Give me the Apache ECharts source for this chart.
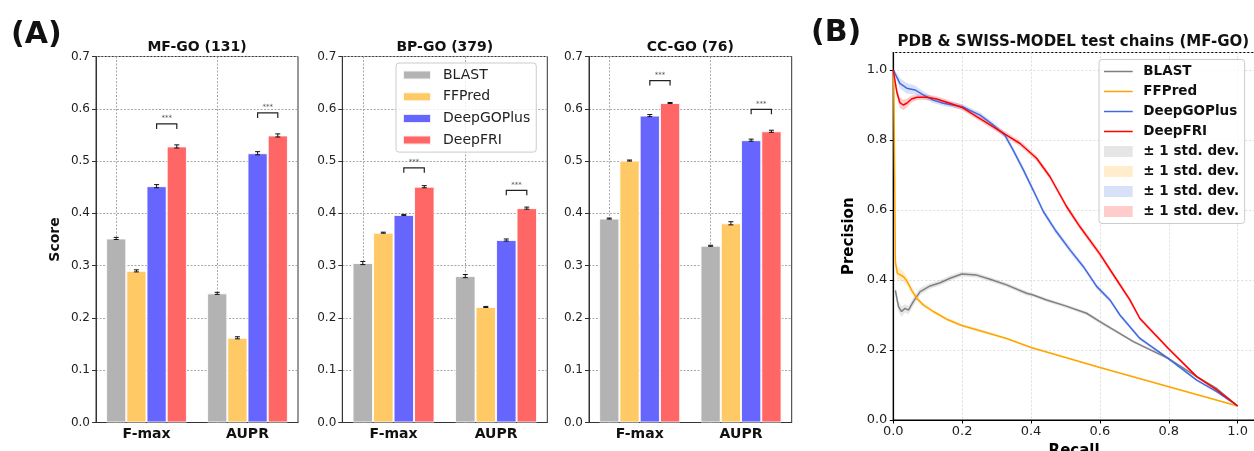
<!DOCTYPE html>
<html><head><meta charset="utf-8">
<script src="https://cdn.jsdelivr.net/npm/echarts@6/dist/echarts.min.js"></script>
<style>html,body{margin:0;padding:0;background:#fff}#c{width:1254px;height:451px}</style>
</head><body><div id="c"></div>
<script>
// ---------- data ----------
const methods = ['BLAST', 'FFPred', 'DeepGOPlus', 'DeepFRI'];
const metrics = ['F-max', 'AUPR'];
const panelTitles = ['MF-GO (131)', 'BP-GO (379)', 'CC-GO (76)'];
// scores[method] = [F-max, AUPR]
const mfScores = [[0.352, 0.247], [0.290, 0.162], [0.452, 0.515], [0.528, 0.549]];
const bpScores = [[0.305, 0.280], [0.363, 0.221], [0.397, 0.349], [0.451, 0.410]];
const ccScores = [[0.390, 0.338], [0.501, 0.381], [0.587, 0.540], [0.611, 0.557]];
const mfErrors = [[0.002, 0.002], [0.002, 0.002], [0.003, 0.003], [0.003, 0.003]];
const bpErrors = [[0.003, 0.003], [0.001, 0.001], [0.001, 0.002], [0.002, 0.002]];
const ccErrors = [[0.001, 0.001], [0.001, 0.003], [0.002, 0.002], [0.001, 0.002]];
// height of significance bracket (*** DeepGOPlus vs DeepFRI) per metric
const mfBracket = [0.571, 0.592];
const bpBracket = [0.487, 0.444];
const ccBracket = [0.654, 0.599];
const barTickLabels = ['0.0', '0.1', '0.2', '0.3', '0.4', '0.5', '0.6', '0.7'];
const prTickLabels = ['0.0', '0.2', '0.4', '0.6', '0.8', '1.0'];
// precision-recall curves: [recall, precision, std]
const blastPR = [[0.006,0.37,0.012],[0.015,0.324,0.015],[0.024,0.31,0.015],[0.034,0.319,0.012],[0.044,0.314,0.012],[0.058,0.338,0.012],[0.078,0.367,0.01],[0.107,0.383,0.008],[0.136,0.392,0.008],[0.165,0.405,0.008],[0.199,0.417,0.007],[0.242,0.414,0.007],[0.281,0.402,0.006],[0.329,0.386,0.006],[0.387,0.362,0.006],[0.406,0.357,0.005],[0.445,0.343,0.005],[0.5,0.326,0.005],[0.561,0.305,0.005],[0.6,0.281,0.005],[0.697,0.224,0.004],[0.798,0.176,0.004],[0.881,0.124,0.003],[0.939,0.09,0.003],[1.0,0.04,0.002]];
const ffpredPR = [[0.001,1.0,0.005],[0.004,0.7,0.015],[0.006,0.45,0.02],[0.012,0.419,0.02],[0.029,0.41,0.015],[0.039,0.398,0.012],[0.053,0.371,0.01],[0.068,0.348,0.008],[0.087,0.329,0.006],[0.116,0.31,0.005],[0.155,0.288,0.005],[0.199,0.27,0.004],[0.252,0.255,0.004],[0.329,0.233,0.003],[0.4,0.207,0.003],[0.6,0.15,0.002],[0.8,0.095,0.002],[1.0,0.04,0.002]];
const deepgoPR = [[0.0,1.0,0.005],[0.019,0.962,0.015],[0.039,0.948,0.015],[0.063,0.943,0.013],[0.087,0.929,0.01],[0.116,0.914,0.008],[0.145,0.905,0.008],[0.2,0.895,0.008],[0.252,0.871,0.008],[0.29,0.843,0.008],[0.324,0.814,0.008],[0.348,0.771,0.008],[0.378,0.714,0.008],[0.406,0.657,0.008],[0.436,0.595,0.008],[0.47,0.543,0.008],[0.513,0.486,0.008],[0.552,0.438,0.007],[0.591,0.381,0.007],[0.629,0.343,0.006],[0.658,0.3,0.006],[0.716,0.233,0.005],[0.798,0.176,0.004],[0.881,0.114,0.003],[0.939,0.081,0.003],[1.0,0.04,0.002]];
const deepfriPR = [[0.0,1.0,0.005],[0.01,0.938,0.015],[0.019,0.907,0.015],[0.029,0.9,0.015],[0.039,0.905,0.013],[0.053,0.917,0.01],[0.068,0.922,0.008],[0.097,0.922,0.008],[0.126,0.917,0.008],[0.164,0.905,0.008],[0.2,0.893,0.008],[0.242,0.867,0.008],[0.281,0.843,0.008],[0.324,0.817,0.008],[0.368,0.79,0.008],[0.416,0.748,0.008],[0.455,0.695,0.008],[0.503,0.61,0.008],[0.542,0.552,0.008],[0.6,0.474,0.008],[0.649,0.4,0.007],[0.687,0.343,0.007],[0.716,0.29,0.006],[0.798,0.205,0.005],[0.881,0.124,0.004],[0.939,0.086,0.003],[1.0,0.04,0.002]];

// ---------- styles ----------
const FONT = 'DejaVu Sans';
const barColors = ['#b3b3b3', '#ffc966', '#6666ff', '#ff6666'];
const lineColors = ['#808080', '#ffa500', '#4169e1', '#ff0000'];
const bandColors = ['rgba(128,128,128,0.2)', 'rgba(255,165,0,0.2)', 'rgba(65,105,225,0.2)', 'rgba(255,0,0,0.2)'];
const bandLegendColors = ['#e6e6e6', '#ffedcc', '#d9e1f9', '#ffcccc'];
const ZW = '\u200b';
const STD = '\u00b1 1 std. dev.';
const LINE_ICON = 'path://M0,0L0.01,0M0,11L0.01,11M0,4.75L28.7,4.75L28.7,6.25L0,6.25Z';

const panelScores = [mfScores, bpScores, ccScores];
const panelErrors = [mfErrors, bpErrors, ccErrors];
const panelBrackets = [mfBracket, bpBracket, ccBracket];
const gridsA = [
  { left: 96, top: 56.5, width: 202, height: 366 },
  { left: 342.3, top: 56.5, width: 205, height: 366 },
  { left: 589, top: 56.5, width: 202.7, height: 366 }
];
const gridB = { left: 893.3, top: 52.5, width: 361.6, height: 367.5 };

const grid = [], xAxis = [], yAxis = [], series = [], graphic = [];
gridsA.forEach((g, p) => {
  grid.push(Object.assign({ show: true, borderColor: '#333', borderWidth: 1, backgroundColor: 'transparent',
    outerBoundsMode: 'none', containLabel: false }, g));
  xAxis.push({
    type: 'category', gridIndex: p, data: metrics,
    axisLine: { lineStyle: { color: '#333' } },
    axisTick: { alignWithLabel: true, length: 4, lineStyle: { color: '#333' } },
    axisLabel: { fontFamily: FONT, fontWeight: 'bold', fontSize: 14, color: '#111', margin: 5 },
    splitLine: { show: false }
  });
  yAxis.push({
    type: 'value', gridIndex: p, min: 0, max: 0.7, interval: 0.1,
    name: p === 0 ? 'Score' : '', nameLocation: 'middle', nameGap: 34, nameRotate: 90,
    nameTextStyle: { fontFamily: FONT, fontWeight: 'bold', fontSize: 14, color: '#111' },
    axisLine: { show: true, lineStyle: { color: '#333' } },
    axisTick: { show: true, length: 4, lineStyle: { color: '#333' } },
    axisLabel: { fontFamily: FONT, fontSize: 12, color: '#222', margin: 6,
      formatter: v => barTickLabels[Math.round(v * 10)] },
    splitLine: { show: true, lineStyle: { color: '#a8a8a8', type: [2, 1.5], width: 1 } }
  });
  graphic.push({ type: 'text', x: g.left + g.width / 2, y: 47.5, silent: true,
    style: { text: panelTitles[p], font: 'bold 14px ' + FONT, fill: '#111', align: 'center', verticalAlign: 'middle' } });

  const scores = panelScores[p];
  methods.forEach((m, k) => {
    const s = {
      type: 'bar', name: m, xAxisIndex: p, yAxisIndex: p, data: scores[k],
      barGap: '0%', barCategoryGap: '20%', z: 2, silent: true,
      itemStyle: { color: barColors[k], borderColor: 'rgba(255,255,255,0.85)', borderWidth: 1 }
    };
    if (k === 0) {
      s.markLine = { silent: true, z: 1, symbol: ['none', 'none'], label: { show: false },
        lineStyle: { color: '#a8a8a8', type: [2, 1.5], width: 1 },
        data: metrics.map(c => ({ xAxis: c })) };
    }
    series.push(s);
  });
  const errData = [];
  methods.forEach((m, k) => metrics.forEach((c, j) => errData.push([j, k, scores[k][j], panelErrors[p][k][j]])));
  series.push({
    type: 'custom', xAxisIndex: p, yAxisIndex: p, z: 4, silent: true, data: errData,
    encode: { x: 0, y: 2 },
    renderItem: (params, api) => {
      const bw = api.size([1, 0])[0];
      const j = api.value(0), k = api.value(1), v = api.value(2), e = api.value(3);
      const cx = api.coord([j, v])[0] + (k - 1.5) * 0.2 * bw;
      const yt = api.coord([j, v + e])[1], yb = api.coord([j, v - e])[1];
      const st = { stroke: '#111', lineWidth: 1 };
      return { type: 'group', children: [
        { type: 'line', shape: { x1: cx, y1: yt, x2: cx, y2: yb }, style: st },
        { type: 'line', shape: { x1: cx - 2.5, y1: yt, x2: cx + 2.5, y2: yt }, style: st },
        { type: 'line', shape: { x1: cx - 2.5, y1: yb, x2: cx + 2.5, y2: yb }, style: st }
      ] };
    }
  });
  series.push({
    type: 'custom', xAxisIndex: p, yAxisIndex: p, z: 4, silent: true,
    data: panelBrackets[p].map((b, j) => [j, b]),
    encode: { x: 0, y: 1 },
    renderItem: (params, api) => {
      const bw = api.size([1, 0])[0];
      const c = api.coord([api.value(0), api.value(1)]);
      const x1 = c[0] + 0.1 * bw, x2 = c[0] + 0.3 * bw, y = c[1];
      return { type: 'group', children: [
        { type: 'polyline', shape: { points: [[x1, y + 5], [x1, y], [x2, y], [x2, y + 5]] },
          style: { stroke: '#222', fill: null, lineWidth: 1.2 } },
        { type: 'text', style: { text: '***', x: (x1 + x2) / 2, y: y - 2, align: 'center', verticalAlign: 'bottom',
          font: '7px ' + FONT, fill: '#555' } }
      ] };
    }
  });
});

// ---------- panel B ----------
grid.push(Object.assign({ show: true, borderColor: '#000', borderWidth: 1.2, backgroundColor: 'transparent',
  outerBoundsMode: 'none', containLabel: false }, gridB));
const prAxisBase = {
  type: 'value', gridIndex: 3, min: 0, max: 1.05, interval: 0.2,
  nameLocation: 'middle', nameTextStyle: { fontFamily: FONT, fontWeight: 'bold', fontSize: 15, color: '#000' },
  axisLine: { show: true, lineStyle: { color: '#000', width: 1.2 } },
  axisTick: { show: true, length: 3.5, lineStyle: { color: '#000' } },
  axisLabel: { fontFamily: FONT, fontSize: 13, color: '#222', showMaxLabel: false,
    formatter: v => prTickLabels[Math.round(v * 5)] || '' },
  splitLine: { show: true, lineStyle: { color: '#dcdcdc', type: [2, 2], width: 1 } }
};
xAxis.push(Object.assign({}, prAxisBase, { name: 'Recall', nameGap: 24,
  axisLabel: Object.assign({}, prAxisBase.axisLabel, { margin: 5 }) }));
yAxis.push(Object.assign({}, prAxisBase, { name: 'Precision', nameGap: 37, nameRotate: 90,
  axisLabel: Object.assign({}, prAxisBase.axisLabel, { margin: 6 }) }));
graphic.push({ type: 'text', x: gridB.left + 180, y: 42.5, silent: true,
  style: { text: 'PDB & SWISS-MODEL test chains (MF-GO)', font: 'bold 15px ' + FONT, fill: '#111', align: 'center', verticalAlign: 'middle' } });
graphic.push({ type: 'text', x: 11, y: 35, silent: true,
  style: { text: '(A)', font: 'bold 30px ' + FONT, fill: '#111', align: 'left', verticalAlign: 'middle' } });
graphic.push({ type: 'text', x: 811, y: 33, silent: true,
  style: { text: '(B)', font: 'bold 30px ' + FONT, fill: '#111', align: 'left', verticalAlign: 'middle' } });

const prCurves = [blastPR, ffpredPR, deepgoPR, deepfriPR];
const bandNames = prCurves.map((c, i) => STD + ZW.repeat(i + 1));
prCurves.forEach((pts, i) => {
  series.push({
    type: 'custom', name: bandNames[i], xAxisIndex: 3, yAxisIndex: 3, z: 2, silent: true, clip: true,
    data: [[0, 0]], itemStyle: { color: bandLegendColors[i] },
    renderItem: (params, api) => {
      const up = pts.map(q => api.coord([q[0], q[1] + q[2]]));
      const lo = pts.slice().reverse().map(q => api.coord([q[0], Math.max(0, q[1] - q[2])]));
      return { type: 'polygon', shape: { points: up.concat(lo) }, style: { fill: bandColors[i], stroke: null } };
    }
  });
});
prCurves.forEach((pts, i) => {
  series.push({
    type: 'line', name: methods[i] + ZW, xAxisIndex: 3, yAxisIndex: 3, z: 3 + i, silent: true,
    data: pts.map(q => [q[0], q[1]]), symbol: 'none', showSymbol: false,
    lineStyle: { width: 1.5, color: lineColors[i] }, itemStyle: { color: lineColors[i] }
  });
});

const option = {
  animation: false,
  backgroundColor: '#fff',
  textStyle: { fontFamily: FONT },
  grid, xAxis, yAxis, series, graphic,
  legend: [
    {
      orient: 'vertical', left: 396, top: 63, padding: [5, 6, 5, 6],
      itemWidth: 28, itemHeight: 9, itemGap: 7.7,
      backgroundColor: 'rgba(255,255,255,0.8)', borderColor: '#cccccc', borderWidth: 1, borderRadius: 3,
      textStyle: { fontFamily: FONT, fontSize: 14, color: '#222', lineHeight: 14, padding: [0, 0, 0, 7] },
      selectedMode: false,
      data: methods.map(m => ({ name: m, icon: 'rect' }))
    },
    {
      orient: 'vertical', left: 1099, top: 59.5, padding: [5, 5.6, 5, 5],
      itemWidth: 28.7, itemHeight: 11, itemGap: 6,
      backgroundColor: 'rgba(255,255,255,0.8)', borderColor: '#cccccc', borderWidth: 1, borderRadius: 3,
      textStyle: { fontFamily: FONT, fontSize: 13.5, fontWeight: 'bold', color: '#111', lineHeight: 14, padding: [0, 0, 0, 5.6] },
      formatter: n => n.replace(/\u200b/g, ''),
      selectedMode: false,
      data: methods.map((m, i) => ({ name: m + ZW, icon: LINE_ICON, itemStyle: { color: lineColors[i], borderWidth: 0 } }))
        .concat(bandNames.map((n, i) => ({ name: n, icon: 'rect', itemStyle: { color: bandLegendColors[i], borderWidth: 0 } })))
    }
  ]
};
const chart = echarts.init(document.getElementById('c'), null, { renderer: 'canvas' });
chart.setOption(option);
</script></body></html>
